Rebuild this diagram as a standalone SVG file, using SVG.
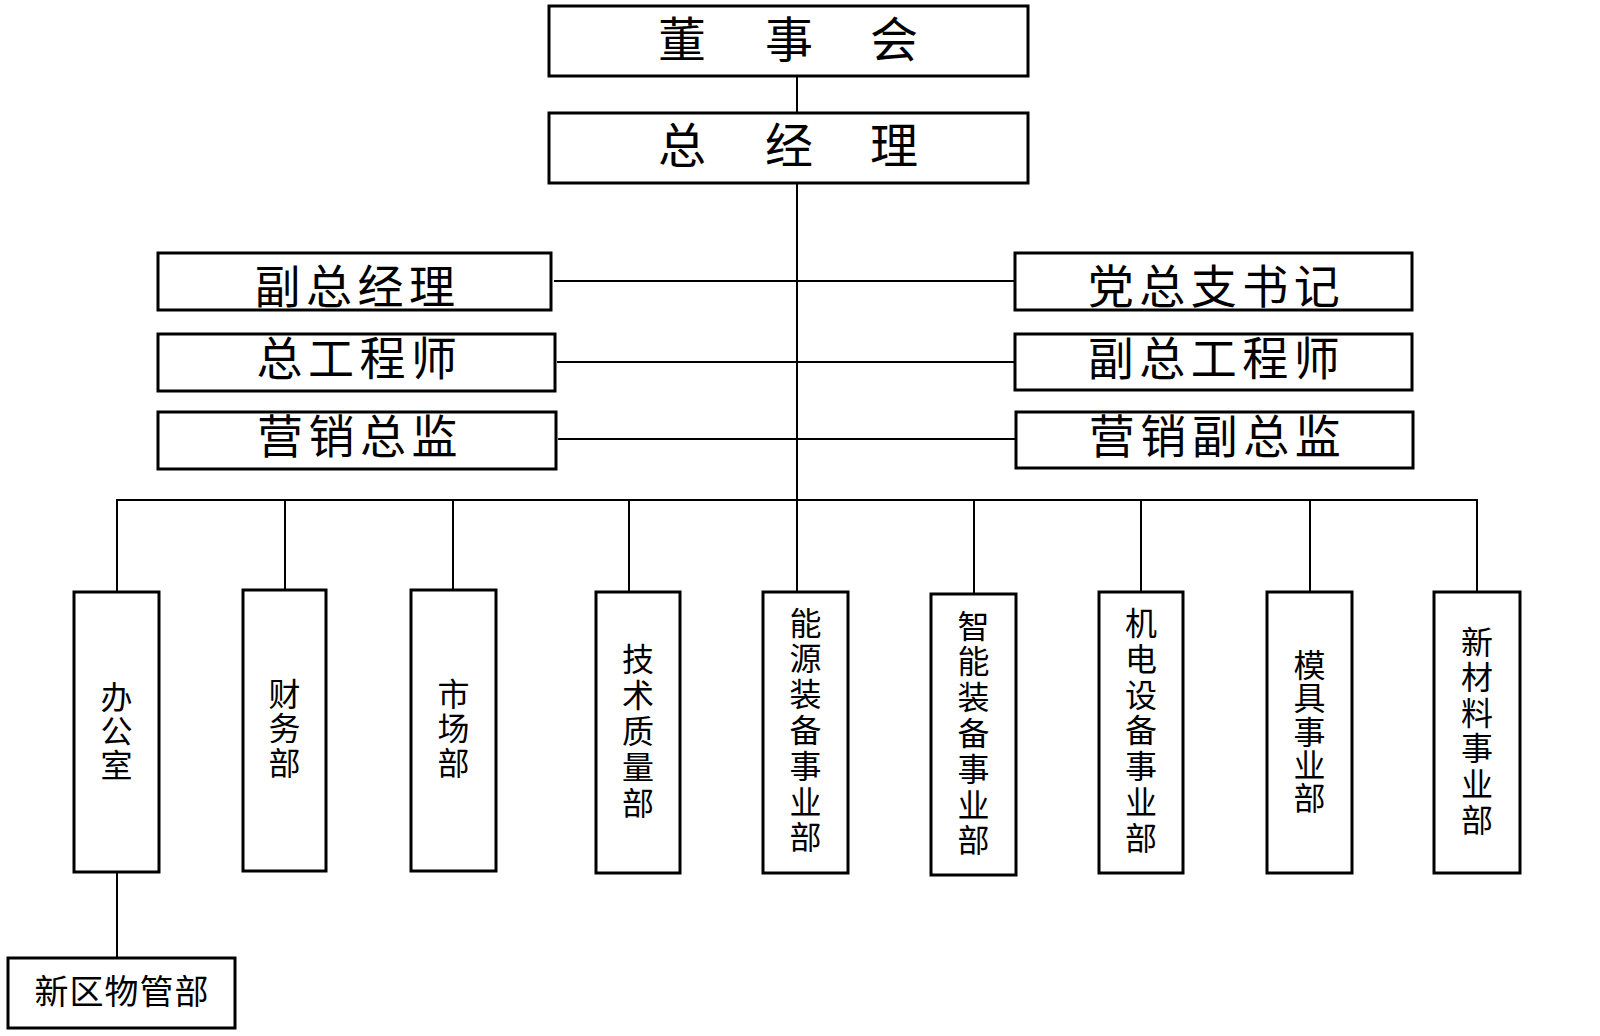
<svg xmlns="http://www.w3.org/2000/svg" width="1600" height="1036" viewBox="0 0 1600 1036">
<style>
  .box { fill: #ffffff; stroke: #000000; stroke-width: 3; }
  .conn { fill: none; stroke: #000000; stroke-width: 2; }
  text { font-family: "Noto Sans CJK SC", "Noto Sans", sans-serif; fill: #000000; text-anchor: middle; }
  .t1 { font-size: 48px; }
  .t2 { font-size: 46px; letter-spacing: 5.5px; }
  .tv { font-size: 32px; }
  .tb { font-size: 34px; letter-spacing: 1px; }
</style>
<rect x="0" y="0" width="1600" height="1036" fill="#ffffff"/>
<g id="connectors">
  <line class="conn" x1="797" y1="76" x2="797" y2="592"/>
  <line class="conn" x1="554" y1="281" x2="797" y2="281"/>
  <line class="conn" x1="557" y1="362" x2="797" y2="362"/>
  <line class="conn" x1="558" y1="439" x2="797" y2="439"/>
  <line class="conn" x1="797" y1="281" x2="1015" y2="281"/>
  <line class="conn" x1="797" y1="362" x2="1015" y2="362"/>
  <line class="conn" x1="797" y1="439" x2="1016" y2="439"/>
  <polyline class="conn" points="117,592 117,500 1477,500 1477,592"/>
  <line class="conn" x1="285" y1="500" x2="285" y2="590"/>
  <line class="conn" x1="453" y1="500" x2="453" y2="590"/>
  <line class="conn" x1="629" y1="500" x2="629" y2="592"/>
  <line class="conn" x1="974" y1="500" x2="974" y2="594"/>
  <line class="conn" x1="1141" y1="500" x2="1141" y2="592"/>
  <line class="conn" x1="1310" y1="500" x2="1310" y2="592"/>
  <line class="conn" x1="117" y1="872" x2="117" y2="958"/>
</g>
<g id="node-dongshihui">
  <rect class="box" x="549" y="6" width="479" height="70"/>
  <text class="t1" x="682 789 894" y="56.5">董事会</text>
</g>
<g id="node-zongjingli">
  <rect class="box" x="549" y="113" width="479" height="70"/>
  <text class="t1" x="682 789 894" y="162.5">总经理</text>
</g>
<g id="node-fuzongjingli">
  <rect class="box" x="158" y="253" width="393" height="57"/>
  <text class="t2" x="357.5" y="303">副总经理</text>
</g>
<g id="node-zonggongchengshi">
  <rect class="box" x="158" y="334" width="397" height="57"/>
  <text class="t2" x="359.5" y="375">总工程师</text>
</g>
<g id="node-yingxiaozongjian">
  <rect class="box" x="158" y="412" width="398" height="57"/>
  <text class="t2" x="360" y="453">营销总监</text>
</g>
<g id="node-dangzongzhi">
  <rect class="box" x="1015" y="253" width="397" height="57"/>
  <text class="t2" x="1216.5" y="303">党总支书记</text>
</g>
<g id="node-fuzonggongchengshi">
  <rect class="box" x="1015" y="334" width="397" height="56"/>
  <text class="t2" x="1216.5" y="375">副总工程师</text>
</g>
<g id="node-yingxiaofuzongjian">
  <rect class="box" x="1016" y="412" width="397" height="56"/>
  <text class="t2" x="1217.5" y="453">营销副总监</text>
</g>
<g id="node-bangongshi">
  <rect class="box" x="74" y="592" width="85" height="280"/>
  <text class="tv" x="116.5 116.5 116.5" y="709 743 777">办公室</text>
</g>
<g id="node-caiwubu">
  <rect class="box" x="243" y="590" width="83" height="281"/>
  <text class="tv" x="284.5 284.5 284.5" y="706 740 775">财务部</text>
</g>
<g id="node-shichangbu">
  <rect class="box" x="411" y="590" width="85" height="281"/>
  <text class="tv" x="453.5 453.5 453.5" y="706 740 775">市场部</text>
</g>
<g id="node-jishuzhiliangbu">
  <rect class="box" x="596" y="592" width="84" height="281"/>
  <text class="tv" x="638 638 638 638 638" y="671 707 743 779 814.5">技术质量部</text>
</g>
<g id="node-nengyuan">
  <rect class="box" x="763" y="592" width="85" height="281"/>
  <text class="tv" x="805.5 805.5 805.5 805.5 805.5 805.5 805.5" y="634.5 670.3 706.1 741.9 777.7 813.5 849.3">能源装备事业部</text>
</g>
<g id="node-zhineng">
  <rect class="box" x="931" y="594" width="85" height="281"/>
  <text class="tv" x="973.5 973.5 973.5 973.5 973.5 973.5 973.5" y="637.5 673.3 709.1 744.9 780.7 816.5 852.3">智能装备事业部</text>
</g>
<g id="node-jidian">
  <rect class="box" x="1099" y="592" width="84" height="281"/>
  <text class="tv" x="1141 1141 1141 1141 1141 1141 1141" y="635 670.8 706.6 742.4 778.2 814 849.8">机电设备事业部</text>
</g>
<g id="node-muju">
  <rect class="box" x="1267" y="592" width="85" height="281"/>
  <text class="tv" x="1309.5 1309.5 1309.5 1309.5 1309.5" y="677 710.3 743.6 776.9 810.2">模具事业部</text>
</g>
<g id="node-xincailiao">
  <rect class="box" x="1434" y="592" width="86" height="281"/>
  <text class="tv" x="1477 1477 1477 1477 1477 1477" y="653.5 689.1 724.7 760.3 795.9 831.5">新材料事业部</text>
</g>
<g id="node-xinquwuguanbu">
  <rect class="box" x="8" y="958" width="227" height="70"/>
  <text class="tb" x="122" y="1004">新区物管部</text>
</g>
</svg>
